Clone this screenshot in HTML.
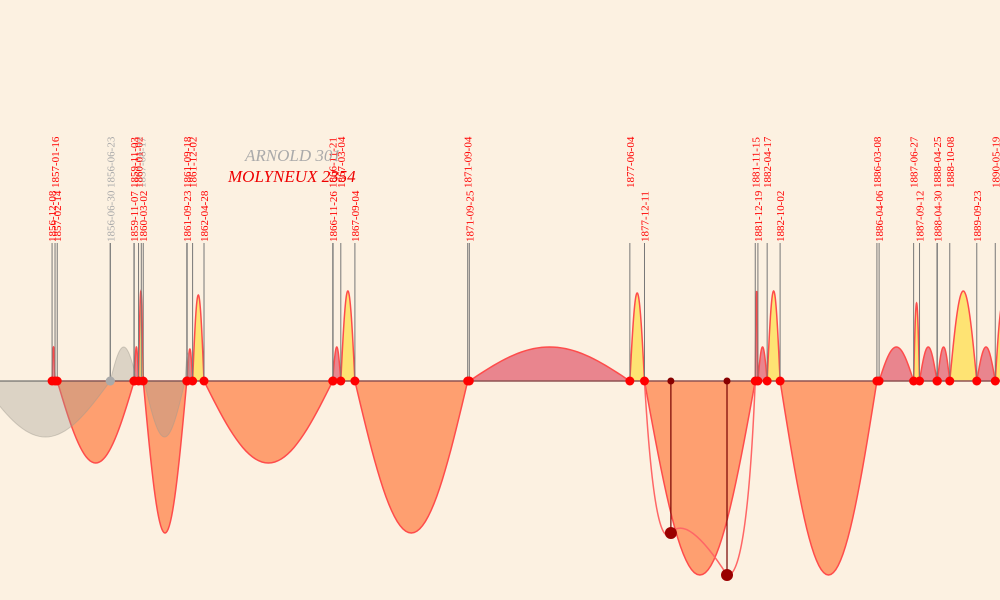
<!DOCTYPE html>
<html><head><meta charset="utf-8"><style>
body{margin:0;background:#fcf1e1;}
svg{display:block;font-family:"Liberation Serif",serif;}
</style></head><body>
<svg id="chart" width="1000" height="600" viewBox="0 0 1000 600">
<rect width="1000" height="600" fill="#fcf1e1"/>
<g id="arcs"></g><g id="gray"></g><g id="lines"></g>
<line x1="0" y1="381" x2="1000" y2="381" stroke="#555" stroke-width="1"/>
<g id="stems"></g><g id="dots"></g><g id="labels"></g>
<text x="245" y="161" font-size="17" font-style="italic" fill="#aaa">ARNOLD 301</text>
<text x="228" y="182" font-size="17" font-style="italic" fill="#e00">MOLYNEUX 2354</text>
</svg>
<script>
const redEvents=["1856-12-08","1857-01-16","1857-02-14","1859-11-03","1859-11-07","1860-01-02","1860-03-02","1861-09-18","1861-09-23","1861-12-02","1862-04-28","1866-11-21","1866-11-26","1867-03-04","1867-09-04","1871-09-04","1871-09-25","1877-06-04","1877-12-11","1881-11-15","1881-12-19","1882-04-17","1882-10-02","1886-03-08","1886-04-06","1887-06-27","1887-09-12","1888-04-25","1888-04-30","1888-10-08","1889-09-23","1890-05-19"];
const redRows=[1,0,1,0,1,0,1,0,1,0,1,0,1,0,1,0,1,0,1,0,1,0,1,0,1,0,1,0,1,0,1,0];
const grayEvents=["1856-06-23","1856-06-30","1857-08-17"];
const grayYears=[1859.0,1859.0,1860.1];
const grayRows=[0,1,0];
const redSegStart=["1856-12-08","1857-02-14","1859-11-07","1860-01-02","1860-03-02","1861-09-23","1861-12-02","1862-04-28","1866-11-21","1867-03-04","1867-09-04","1871-09-25","1877-06-04","1877-12-11","1881-11-15","1881-12-19","1882-04-17","1882-10-02","1886-04-06","1887-06-27","1887-09-12","1888-04-30","1888-10-08","1889-09-23","1890-05-19"];
const redSegEnd=["1857-01-16","1859-11-07","1860-01-02","1860-03-02","1861-09-18","1861-12-02","1862-04-28","1866-11-21","1867-03-04","1867-09-04","1871-09-04","1877-06-04","1877-12-11","1881-11-15","1881-12-19","1882-04-17","1882-10-02","1886-03-08","1887-06-27","1887-09-12","1888-04-25","1888-10-08","1889-09-23","1890-05-19","1890-12-01"];
const redSegValues=[34,-82,34,90,-152,32,86,-82,34,90,-152,34,88,-194,90,34,90,-194,34,78,34,34,90,34,78];
const redSegKinds=["r","o","r","y","o","r","y","o","r","y","o","r","y","o","r","r","y","o","r","y","r","r","y","r","y"];
const graySegStart=[1854.4,1859.0,1860.2,1861.65];
const graySegEnd=[1859.0,1859.95,1861.65,1861.85];
const graySegValues=[-56,34,-56,28];
const stemYears=[1878.88,1880.87];
const stemValues=[-152,-194];

const NS="http://www.w3.org/2000/svg";
function yr(d){const p=d.split("-").map(Number);return p[0]+(p[1]-1)/12+(p[2]-1)/365;}
function xs(t){return 55+(t-1857.04)*28.2;}
function ys(v){return 381-v;}
function mk(tag,attrs,parent){const e=document.createElementNS(NS,tag);for(const k in attrs)e.setAttribute(k,attrs[k]);document.getElementById(parent).appendChild(e);return e;}
function arcPath(t0,t1,v){const x0=xs(t0),x1=xs(t1);let d="M"+x0+","+ys(0);for(let i=0;i<=40;i++){const f=i/40;d+=" L"+(x0+(x1-x0)*f).toFixed(2)+","+ys(v*Math.sin(Math.PI*f)).toFixed(2);}return d+" Z";}
const fills={r:"#e8808a",o:"#ff9b6b",y:"#ffe36e"};
for(let i=0;i<graySegStart.length;i++){
 const e=mk("path",{d:arcPath(graySegStart[i],graySegEnd[i],graySegValues[i]),fill:"rgba(160,155,145,0.35)",stroke:"rgba(160,155,145,0.45)"},"gray");
 
 
}
for(let i=0;i<redSegStart.length;i++){
 const e=mk("path",{d:arcPath(yr(redSegStart[i]),yr(redSegEnd[i]),redSegValues[i]),fill:fills[redSegKinds[i]],stroke:"#f44",'stroke-width':1.5,opacity:0.95},"arcs");
 
 
}
function label(txt,x,row,col,nm){
 const l=mk("line",{x1:x,y1:243,x2:x,y2:381,stroke:"#777",'stroke-width':1},"lines");
 
 
 const by=row===0?188:242;
 const t=mk("text",{x:0,y:0,transform:"translate("+(x+4)+","+by+") rotate(-90)",'font-size':11,fill:col},"labels");
 t.textContent=txt;
 
 
 const c=mk("circle",{cx:x,cy:381,r:4.5,fill:col==="red"?"#f00":"#aaa"},"dots");
 
 
}
for(let i=0;i<grayEvents.length;i++)label(grayEvents[i],xs(grayYears[i]),grayRows[i],"#aaa","arnold-date-label");
for(let i=0;i<redEvents.length;i++)label(redEvents[i],xs(yr(redEvents[i])),redRows[i],"red","molyneux-date-label");
// skewed connecting curve through stem points
(function(){
 const x0=xs(yr("1877-12-11")),x3=xs(yr("1881-11-15"));
 const a=xs(stemYears[0]),b=xs(stemYears[1]);
 const d="M"+x0+",381 Q"+(x0+10)+","+ys(stemValues[0]-20)+" "+a+","+ys(stemValues[0])+" T"+b+","+ys(stemValues[1])+" Q"+(b+20)+","+ys(stemValues[1]-5)+" "+x3+",381";
 const p=mk("path",{d:d,fill:"none",stroke:"#f66",'stroke-width':1.5},"stems");
 
 
})();
for(let i=0;i<stemYears.length;i++){
 const x=xs(stemYears[i]);
 const l=mk("line",{x1:x,y1:381,x2:x,y2:ys(stemValues[i]),stroke:"#700",'stroke-width':1.2},"stems");
 
 
 const c0=mk("circle",{cx:x,cy:381,r:3.5,fill:"#800"},"stems");
 
 
 const c=mk("circle",{cx:x,cy:ys(stemValues[i]),r:6,fill:"#900"},"stems");
 
 
}
</script>
</body></html>
